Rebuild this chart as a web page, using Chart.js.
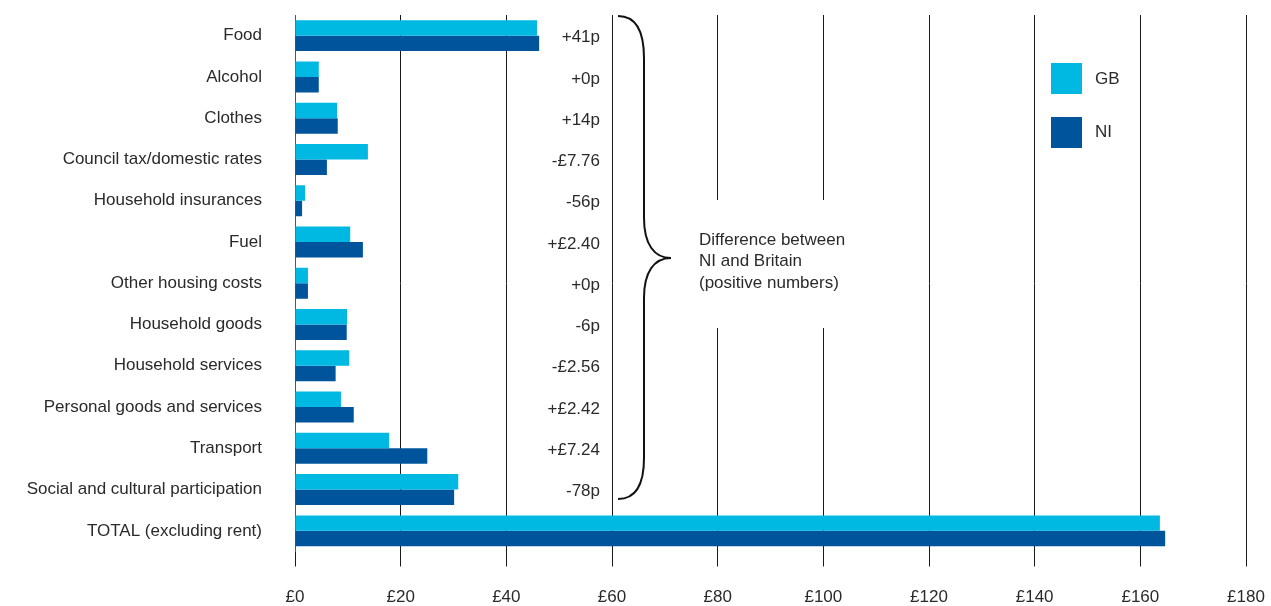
<!DOCTYPE html>
<html>
<head>
<meta charset="utf-8">
<script src="https://cdn.jsdelivr.net/npm/chart.js@4.4.1/dist/chart.umd.min.js"></script>
<style>
  html, body { margin: 0; padding: 0; background: #fff; }
  #wrap { width: 1271px; height: 606px; position: relative; }
</style>
</head>
<body>
<div id="wrap"><canvas id="spendChart"></canvas></div>
<script>
// Weekly spend, GB vs NI (£)
const categories = [
  "Food", "Alcohol", "Clothes", "Council tax/domestic rates", "Household insurances",
  "Fuel", "Other housing costs", "Household goods", "Household services",
  "Personal goods and services", "Transport", "Social and cultural participation",
  "TOTAL (excluding rent)"
]
const gbValues = [45.8, 4.5, 7.95, 13.8, 1.9, 10.45, 2.45, 9.85, 10.25, 8.7, 17.8, 30.9, 163.7]
const niValues = [46.21, 4.5, 8.09, 6.04, 1.34, 12.85, 2.45, 9.79, 7.69, 11.12, 25.04, 30.12, 164.7]
const diffLabels = ["+41p", "+0p", "+14p", "-£7.76", "-56p", "+£2.40", "+0p", "-6p", "-£2.56", "+£2.42", "+£7.24", "-78p", ""]
const xTicks = [0, 20, 40, 60, 80, 100, 120, 140, 160, 180]

const FONT = "'Liberation Sans', Arial, sans-serif"
const TEXT = "#2a2a2a"
const GB_COLOR = "#00b9e3"
const NI_COLOR = "#00549b"

const annotations = {
  id: "annotations",
  beforeDatasetsDraw(chart) {
    // white box breaking the gridlines behind the note
    const ctx = chart.ctx
    ctx.save()
    ctx.fillStyle = "#fff"
    ctx.fillRect(690, 200, 190, 128)
    ctx.restore()
  },
  afterDraw(chart) {
    const ctx = chart.ctx
    const y = chart.scales.y
    ctx.save()

    // difference labels
    ctx.font = "17px " + FONT
    ctx.fillStyle = TEXT
    ctx.textAlign = "right"
    ctx.textBaseline = "middle"
    diffLabels.forEach((lbl, i) => {
      if (lbl) ctx.fillText(lbl, 600, y.getPixelForValue(i) + 2)
    })

    // brace
    ctx.strokeStyle = "#111"
    ctx.lineWidth = 2
    ctx.beginPath()
    ctx.moveTo(618, 16)
    ctx.bezierCurveTo(636, 16, 644, 32, 644, 58)
    ctx.lineTo(644, 218)
    ctx.bezierCurveTo(644, 244, 654, 258, 671, 258)
    ctx.bezierCurveTo(654, 258, 644, 272, 644, 298)
    ctx.lineTo(644, 458)
    ctx.bezierCurveTo(644, 484, 636, 499, 618, 499)
    ctx.stroke()

    // note text
    ctx.textAlign = "left"
    ctx.fillText("Difference between", 699, 240)
    ctx.fillText("NI and Britain", 699, 261.5)
    ctx.fillText("(positive numbers)", 699, 283)

    // legend
    ctx.fillStyle = GB_COLOR
    ctx.fillRect(1051, 63, 31, 31)
    ctx.fillStyle = NI_COLOR
    ctx.fillRect(1051, 117, 31, 31)
    ctx.fillStyle = TEXT
    ctx.font = "17px " + FONT
    ctx.fillText("GB", 1095, 79)
    ctx.fillText("NI", 1095, 132)

    ctx.restore()
  }
}

new Chart(document.getElementById("spendChart"), {
  type: "bar",
  data: {
    labels: categories,
    datasets: [
      { label: "GB", data: gbValues, backgroundColor: GB_COLOR, categoryPercentage: 0.75, barPercentage: 1.0 },
      { label: "NI", data: niValues, backgroundColor: NI_COLOR, categoryPercentage: 0.75, barPercentage: 1.0 }
    ]
  },
  options: {
    indexAxis: "y",
    responsive: true,
    maintainAspectRatio: false,
    animation: false,
    layout: { padding: { top: 15, right: 25, left: 0, bottom: 0 } },
    plugins: {
      legend: { display: false },
      tooltip: { enabled: false }
    },
    scales: {
      x: {
        min: 0,
        max: 180,
        afterBuildTicks: (scale) => { scale.ticks = xTicks.map((v) => ({ value: v })) },
        afterFit: (scale) => {
          scale.height = 54.5
          scale.paddingLeft = 0
          scale.paddingRight = 0
        },
        grid: { color: "#1a1a1a", lineWidth: 1, tickLength: 15, drawTicks: true },
        border: { display: false },
        ticks: {
          callback: (v) => "£" + v,
          color: TEXT,
          font: { family: FONT, size: 17 },
          padding: 21,
          maxRotation: 0
        }
      },
      y: {
        afterFit: (scale) => {
          scale.width = 295
          scale.paddingTop = 0
          scale.paddingBottom = 0
        },
        grid: { display: false, drawTicks: false },
        border: { display: true, color: "#555", width: 1 },
        ticks: {
          color: TEXT,
          font: { family: FONT, size: 17 },
          padding: 33
        }
      }
    }
  },
  plugins: [annotations]
})
</script>
</body>
</html>
